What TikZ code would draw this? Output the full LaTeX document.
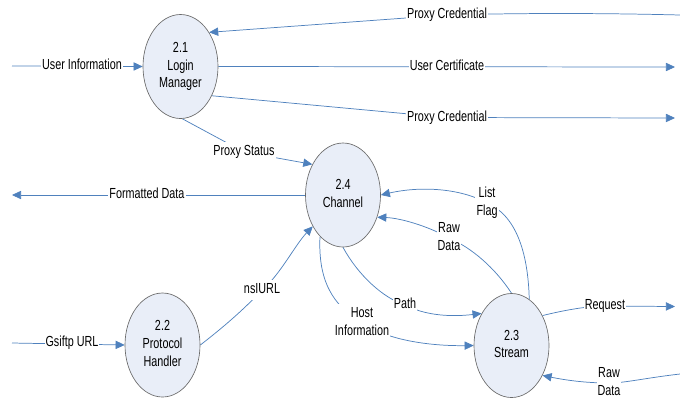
\documentclass[tikz,border=0pt]{standalone}
\usepackage{fontspec}
\setmainfont{Liberation Sans}
\usepackage{graphicx}
\usetikzlibrary{shapes.geometric,arrows.meta}
\pgfdeclarelayer{bg}
\pgfsetlayers{bg,main}
\definecolor{flowblue}{HTML}{4F81BD}
\definecolor{procfill}{HTML}{E9EEF8}
\definecolor{procline}{HTML}{6A6A6A}
\newcommand{\mystack}[1]{\scalebox{1}[1.35]{\begin{tabular}{@{}c@{}}#1\end{tabular}}}
\tikzset{
  proc/.style={ellipse, draw=procline, line width=0.5pt, fill=procfill,
    minimum width=56.25pt, minimum height=78pt, inner sep=0pt,
    font=\fontsize{8.1}{9.8}\selectfont},
  lab/.style={fill=white, inner sep=0.8pt, font=\fontsize{8.1}{9.8}\selectfont},
  flow/.style={draw=flowblue, line width=0.55pt,
    -{Triangle[length=6.8pt,width=6.2pt]}, flowblue},
  plain/.style={draw=flowblue, line width=0.55pt}
}
\begin{document}
\begin{tikzpicture}[x=0.75pt,y=-0.75pt]
\useasboundingbox (0,0) rectangle (680,401);

% processes
\node[proc] (n21) at (180.5,66.5) {\mystack{2.1\\Login\\Manager}};
\node[proc] (n24) at (343,195) {\mystack{2.4\\Channel}};
\node[proc] (n22) at (162.5,345) {\mystack{2.2\\Protocol\\Handler}};
\node[proc] (n23) at (511.5,345.5) {\mystack{2.3\\Stream}};

% free ends
\coordinate (cUI) at (12,66);
\coordinate (cPC1) at (680,15);
\coordinate (cUC) at (675,67);
\coordinate (cPC2) at (675,118);
\coordinate (cFD) at (12,195);
\coordinate (cGU) at (12,343);
\coordinate (cRQ) at (675,306.5);
\coordinate (cRD) at (680,374);

% labels
\node[lab] (lUI) at (82,66) {\mystack{User Information}};
\node[lab] (lPC1) at (447,15) {\mystack{Proxy Credential}};
\node[lab] (lUC) at (447,67) {\mystack{User Certificate}};
\node[lab] (lPC2) at (447,117.5) {\mystack{Proxy Credential}};
\node[lab] (lPS) at (244,152) {\mystack{Proxy Status}};
\node[lab] (lFD) at (147,195) {\mystack{Formatted Data}};
\node[lab] (lNS) at (262,290) {\mystack{nsIURL}};
\node[lab] (lGU) at (72,343) {\mystack{Gsiftp URL}};
\node[lab] (lLF) at (487,203) {\mystack{List\\Flag}};
\node[lab] (lRD1) at (449,238) {\mystack{Raw\\Data}};
\node[lab] (lPA) at (405,305) {\mystack{Path}};
\node[lab] (lHI) at (362,323) {\mystack{Host\\Information}};
\node[lab] (lRQ) at (605,306) {\mystack{Request}};
\node[lab] (lRD2) at (609,383) {\mystack{Raw\\Data}};

\begin{pgfonlayer}{bg}
\draw[flow] (cUI) -- (n21.west);
\draw[flow] (cPC1) .. controls (600,13) and (520,13) .. (lPC1.center) -- (n21.50);
\draw[flow] (n21.east) -- (cUC);
\draw[flow] (n21.-43) -- (lPC2.center) -- (cPC2);
\draw[flow] (n21.-88) -- (lPS.center) -- (n24.135);
\draw[flow] (n24.west) -- (cFD);
\draw[flow] (n22.east) .. controls (230,322) and (248,305) .. (lNS.center)
  .. controls (280,275) and (295,245) .. (n24.-134);
\draw[flow] (cGU) -- (n22.west);
\draw[flow] (n23.69) .. controls (528,250) and (515,215) .. (lLF.center)
  .. controls (460,188) and (420,186) .. (n24.0);
\draw[flow] (n23.north) .. controls (495,268) and (472,248) .. (lRD1.center)
  .. controls (428,226) and (400,218) .. (n24.-33);
\draw[flow] (n24.-90) .. controls (358,275) and (383,298) .. (lPA.center)
  .. controls (430,318) and (460,316) .. (n23.133);
\draw[flow] (n24.-119) .. controls (318,280) and (332,305) .. (lHI.center)
  .. controls (392,343) and (440,346) .. (n23.west);
\draw[flow] (n23.44) .. controls (565,310) and (588,306) .. (lRQ.center) -- (cRQ);
\draw[flow] (cRD) .. controls (645,378) and (625,383) .. (lRD2.center)
  .. controls (585,383) and (565,380) .. (n23.-44);
\end{pgfonlayer}
\end{tikzpicture}
\end{document}
